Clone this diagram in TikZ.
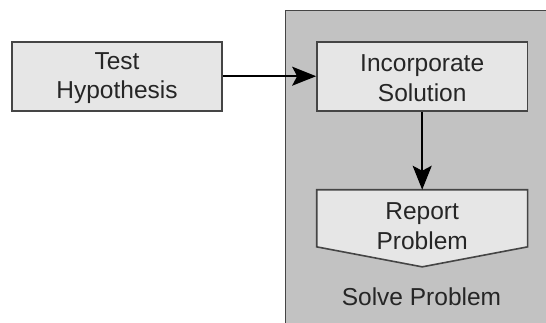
\documentclass[tikz,border=0pt]{standalone}
\usepackage{fontspec}
\setmainfont{Liberation Sans}
\usetikzlibrary{arrows.meta,calc}
\definecolor{panelgray}{HTML}{C2C2C2}
\definecolor{boxgray}{HTML}{E6E6E6}
\definecolor{edgegray}{HTML}{454545}
\definecolor{inkgray}{HTML}{262626}
\begin{document}
\begin{tikzpicture}[x=1pt,y=-1pt,
  every node/.style={font=\fontsize{24.5}{29.5}\selectfont, text=inkgray, inner sep=0pt},
  stepbox/.style={draw=edgegray, line width=1.6pt, fill=boxgray, align=center,
    minimum width=210.5pt, minimum height=69pt},
  flow/.style={draw=black, line width=1.8pt,
    -{Stealth[length=24pt,width=19pt,inset=5pt]}}]
  \useasboundingbox (0,0) rectangle (546,322);
  % grey activity panel, running off the right and bottom edges
  \fill[panelgray] (285.5,10.5) rectangle (552,330);
  \draw[edgegray, line width=1.6pt] (285.5,330) -- (285.5,10.5) -- (552,10.5);
  % process steps
  \node[stepbox, minimum width=209.5pt] (test) at (117,76.2) {};
  \node[align=center] (testtext) at (117,78) {Test\\Hypothesis};
  \node[stepbox] (incorp) at (422.2,76.2) {};
  \node[align=center] (incorptext) at (422.2,78) {Incorporate\\Solution};
  \node[align=center, minimum width=210.5pt, minimum height=56.7pt] (report)
    at (422.2,218.3) {};
  \draw[draw=edgegray, line width=1.6pt, fill=boxgray]
    (report.north west) -- (report.north east) -- (report.south east)
    -- ($(report.south)+(0,20)$) -- (report.south west) -- cycle;
  \node[align=center] (reporttext) at (422.2,226) {Report\\Problem};
  \node[anchor=base] (panel) at (421.5,305) {Solve Problem};
  % connectors
  \draw[flow] (test.east) -- (incorp.west);
  \draw[flow] (incorp.south) -- (report.north);
\end{tikzpicture}
\end{document}
